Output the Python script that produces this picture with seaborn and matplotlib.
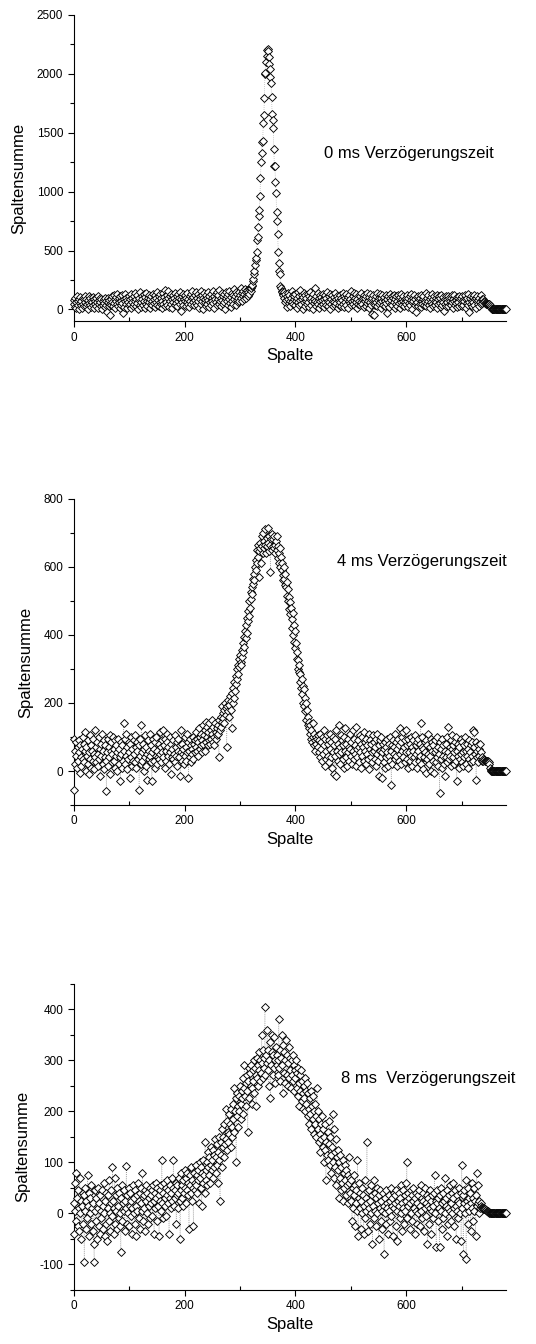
import matplotlib
matplotlib.use("Agg")
import matplotlib.pyplot as plt
from matplotlib.ticker import MultipleLocator
import numpy as np
import pandas as pd
import seaborn as sns

# --- Data: Spaltensumme for every detector column (Spalte 0..780) ---
SUM_0MS = [
    45, 80, 20, 95, 60, 10, 110, 70, 35, 90, 0, 55, 105, 40, 75, 15, 100, 50, 85, 30,
    65, 110, 25, 90, 45, 5, 80, 115, 55, 35, 100, 70, 20, 60, 105, 40, 85, 10, 75, 50,
    95, 30, 65, 110, 15, 80, 45, 100, 60, 25, 90, 5, 70, 40, 85, 55, 20, 95, 35, 75,
    -20, 60, 100, 30, 80, 50, -45, 90, 40, 115, 65, 25, 120, 55, 85, 10, 70, 105, 45, 130,
    30, 95, 60, 15, 110, 75, 40, 125, 55, -30, 90, 20, 70, 135, 45, 100, 10, 80, 60, 115,
    35, 85, 50, 130, 15, 95, 65, 25, 110, 45, 75, 140, 30, 90, 55, 120, 5, 80, 100, 40,
    150, 60, 20, 115, 85, 40, 130, 70, 10, 105, 50, 140, 75, 30, 95, 60, 125, 15, 85, 45,
    110, 70, 35, 135, 55, 90, 20, 120, 65, 100, 40, 145, 80, 25, 110, 60, 130, 45, 95, 15,
    75, 140, 50, 105, 30, 165, 85, 60, 120, 40, 95, 155, 20, 110, 70, 135, 45, 90, 10, 125,
    65, 100, 35, 140, 80, 55, 115, 25, 130, 70, 95, 45, 150, 85, -15, 110, 60, 130, 40, 90,
    75, 120, 30, 100, 65, 140, 50, 85, 20, 115, 70, 135, 45, 95, 160, 60, 105, 35, 125, 80,
    150, 55, 100, 40, 130, 75, 15, 110, 90, 160, 45, 120, 70, 5, 100, 140, 60, 85, 30, 125,
    95, 50, 150, 80, 20, 115, 65, 135, 40, 100, 75, 160, 55, 110, 10, 90, 130, 60, 145, 35,
    85, 120, 50, 165, 70, 100, 25, 140, 80, 110, 45, 130, 60, 5, 95, 150, 70, 115, 40, 135,
    85, 160, 55, 105, 20, 140, 75, 120, 50, 170, 90, 110, 35, 150, 80, 130, 60, 100, 145, 75,
    120, 180, 95, 140, 70, 160, 110, 130, 85, 175, 100, 150, 120, 165, 110, 145, 170, 135, 180, 160,
    185, 200, 210, 240, 260, 300, 330, 380, 420, 440, 490, 590, 615, 700, 790, 840, 960, 1115, 1250, 1330,
    1420, 1430, 1580, 1650, 1790, 1995, 2010, 2100, 2150, 2200, 2210, 2190, 2140, 2080, 2040, 1970, 1920, 1800, 1660, 1610,
    1540, 1360, 1220, 1215, 1080, 990, 830, 750, 640, 490, 390, 330, 300, 200, 180, 160, 150, 130, 120, 145,
    100, 60, 130, 80, 110, 20, 90, 140, 55, 120, 75, 30, 100, 160, 65, 125, 45, 85, 110, 40,
    130, 70, 95, 15, 150, 60, 115, 35, 165, 80, 50, 125, 90, 5, 105, 140, 65, 30, 120, 75,
    95, 45, 135, 60, 110, 20, 85, 150, 40, 100, 70, 130, 5, 90, 55, 180, 75, 30, 115, 60,
    140, 45, 95, 10, 120, 70, 35, 105, 80, 135, 50, 90, 20, 125, 65, 100, 40, 145, 75, 30,
    110, 60, 130, 5, 90, 50, 120, 75, 25, 105, 65, 140, 35, 85, 55, 115, 15, 95, 70, 40,
    125, 60, 100, 30, 80, 140, 50, 110, 20, 95, 65, 130, 40, 85, 105, 10, 75, 120, 55, 90,
    35, 160, 70, 115, 45, 140, 80, 25, 100, 60, 130, 15, 90, 50, 120, 75, 35, 110, 60, 140,
    85, 45, 100, 20, 125, 70, 95, 30, 115, 55, 140, 75, 10, 105, 60, 130, 40, 85, -40, 95,
    120, 50, -45, 90, 35, 110, 65, 140, 25, 80, 100, 45, 130, 60, 15, 95, 70, 120, 40, 85,
    105, 30, 75, 125, 55, 90, -30, 110, 65, 20, 100, 135, 45, 80, 115, 35, 95, 60, 125, 10,
    85, 50, 110, 70, 30, 120, 55, 95, 15, 105, 65, 130, 40, 90, 75, 115, 25, 85, 60, 100,
    45, 125, 70, 20, 95, 55, 110, 35, 80, 130, 60, 5, 100, 75, 120, 40, 90, 55, -25, 105,
    65, 115, 30, 85, 50, 100, 20, 125, 70, 45, 90, 110, 35, 80, 60, 140, 25, 95, 55, 75,
    120, 40, 85, 15, 105, 65, 130, 50, 90, 25, 110, 70, 35, 100, 60, 125, 10, 85, 45, 115,
    55, 95, 20, 120, 70, 40, 105, 60, -10, 90, 50, 115, 30, 85, 65, 110, 25, 95, 45, 75,
    100, 35, 120, 60, 15, 90, 70, 125, 40, 80, 55, 105, 20, 95, 65, 115, 30, 85, 50, 100,
    25, 110, 60, 40, 90, 70, 120, 15, 85, 55, 100, 35, 130, 65, -20, 95, 45, 110, 75, 30,
    105, 60, 125, 40, 85, 10, 95, 70, 115, 50, 80, 30, 100, 65, 120, 45, 90, 55, 75, 85,
    70, 60, 55, 52, 50, 50, 48, 47, 46, 45, 43, 40, 30, 15, 5, 0, 0, 0, 0, 0,
    0, 0, 0, 0, 0, 0, 0, 0, 0, 0, 0, 0, 0, 0, 0, 0, 0, 0, 0, 0,
    0,
]

SUM_4MS = [
    95, -55, 60, 20, 85, 45, 10, 70, 30, 90, 55, -5, 75, 40, 15, 65, 100, 35, 80, 25,
    60, 115, 0, 70, 45, 90, 20, 55, -10, 105, 35, 75, 10, 60, 95, 30, 50, 5, 120, 40,
    70, 25, 85, 50, 15, 100, 35, 65, -15, 80, 45, 110, 20, 60, 90, 5, 40, 75, 30, -60,
    55, 95, 15, 70, 40, 105, -10, 60, 85, 25, 50, 100, 30, 65, 10, 90, 45, 75, 0, 55,
    95, 20, 65, 40, -30, 85, 50, 10, 75, 30, 140, 60, 20, 95, 45, 110, 5, 70, 35, 85,
    55, -20, 80, 40, 100, 15, 65, 30, 90, 50, 105, 25, 70, 10, 60, 85, 35, 75, -55, 45,
    95, 20, 135, 55, 30, 80, 0, 65, 40, 105, 15, 70, 50, -25, 90, 35, 60, 110, 45, 25,
    75, -30, 55, 95, 30, 65, 10, 85, 45, 100, 20, 60, 40, 80, 35, 115, 50, 70, 25, 90,
    55, 120, 40, 75, 10, 95, 60, 30, 85, 110, 45, 70, 20, 100, 55, -10, 80, 40, 65, 35,
    90, 50, 105, 25, 70, 45, 85, 15, 60, 95, 40, 75, -15, 55, 120, 30, 80, 50, 65, 20,
    100, 45, 70, 30, 110, 55, 85, -20, 60, 40, 95, 75, 25, 65, 50, 100, 35, 80, 55, 90,
    70, 115, 60, 95, 45, 85, 125, 65, 100, 75, 110, 55, 90, 135, 80, 105, 60, 120, 145, 85,
    100, 130, 75, 115, 90, 140, 80, 120, 95, 150, 110, 85, 130, 100, 75, 140, 115, 95, 125, 105,
    135, 110, 40, 150, 120, 160, 130, 190, 145, 170, 155, 180, 140, 200, 165, 185, 70, 190, 175, 210,
    195, 160, 220, 180, 205, 125, 230, 200, 245, 215, 260, 235, 280, 255, 300, 270, 310, 285, 330, 305,
    340, 320, 310, 355, 335, 375, 350, 395, 365, 410, 390, 430, 405, 450, 440, 470, 455, 500, 480, 525,
    505, 540, 520, 565, 550, 580, 560, 600, 590, 620, 610, 650, 630, 665, 645, 570, 670, 655, 610, 690,
    660, 640, 700, 675, 655, 710, 665, 640, 685, 660, 715, 670, 645, 690, 665, 585, 680, 650, 695, 660,
    680, 655, 690, 665, 640, 675, 690, 650, 660, 625, 640, 610, 655, 600, 630, 590, 610, 575, 560, 600,
    565, 545, 580, 540, 555, 515, 535, 500, 510, 475, 495, 460, 480, 445, 420, 465, 400, 430, 380, 410,
    360, 375, 330, 350, 300, 325, 290, 310, 260, 285, 245, 270, 225, 250, 200, 240, 190, 215, 175, 200,
    150, 180, 135, 160, 125, 145, 110, 135, 95, 120, 85, 140, 100, 75, 110, 90, 60, 100, 80, 95,
    70, 105, 55, 90, 40, 110, 65, 85, 30, 100, 50, 120, 75, 15, 95, 60, 35, 105, 80, 45,
    90, 25, 110, 65, 40, 85, 10, 100, 55, 75, -10, 95, 45, -15, 120, 60, 30, 80, 135, 50,
    70, 20, 105, 55, 90, 35, 75, 10, 100, 60, 125, 40, 80, 15, 95, 55, 70, 30, 110, 65,
    45, 85, 20, 120, 60, 35, 95, 50, 75, 15, 130, 65, 40, 90, 25, 70, 105, 55, 80, 10,
    100, 45, 70, 30, 115, 60, 85, 20, 95, 50, 75, 35, 110, 5, 65, 90, 40, 80, 55, 25,
    105, 60, 85, 35, 70, 15, 95, 50, 110, 30, 75, -15, 60, 90, 40, 100, 55, -20, 80, 25,
    65, 85, 10, 70, 40, 95, 55, 15, 80, 45, 100, 30, 60, -40, 75, 20, 90, 50, 70, 35,
    110, 45, 85, 15, 65, 95, 30, 75, 125, 50, 85, 20, 100, 60, 40, 115, 70, 25, 90, 55,
    120, 35, 75, 10, 95, 55, 80, 30, 100, 45, 70, 15, 90, 60, 40, 105, 25, 75, 50, 85,
    10, 95, 60, 30, 80, 45, 140, 20, 70, 100, 5, 65, 40, 85, 55, -5, 90, 35, 75, 50,
    110, 20, 70, 45, 95, 0, 60, 85, 30, 75, -5, 55, 90, 25, 65, 40, 100, 15, 70, 50,
    -65, 85, 35, 65, 10, 95, 45, 75, 20, 60, -15, 80, 40, 100, 25, 55, 130, 35, 70, 45,
    90, 15, 65, 105, 40, 75, 20, 55, 85, 30, 100, -30, 60, 45, 80, 10, 70, 35, 95, 50,
    25, 85, 55, 15, 75, 40, 100, 60, 20, 80, 45, 65, 10, 90, 35, 55, 75, 25, 85, 45,
    120, 30, 70, 115, 50, 85, -25, 60, 40, 75, 25, 65, 45, 80, 35, 55, 30, 40, 35, 30,
    32, 31, 30, 30, 30, 29, 28, 28, 27, 26, 20, 10, 3, 0, 0, 0, 0, 0, 0, 0,
    0, 0, 0, 0, 0, 0, 0, 0, 0, 0, 0, 0, 0, 0, 0, 0, 0, 0, 0, 0,
    0,
]

SUM_8MS = [
    20, -40, 60, 5, -15, 80, 30, -25, 45, 10, -35, 70, 0, 25, -50, 15, 40, -20, 35, -95,
    5, 50, -30, 25, -10, 75, 15, -45, 40, 0, 30, -20, 55, 10, -35, 20, -60, -95, 45, 5,
    -15, 30, -50, 10, 50, -25, 20, -40, 35, 5, -10, 45, -30, 15, 0, 60, -45, 25, -20, 40,
    -55, 10, 35, -15, 65, 0, -35, 20, 45, -5, 90, 25, -40, 10, 70, -20, 35, 5, -30, 50,
    15, -10, 40, -25, 0, -75, 30, 55, -15, 20, 5, 45, -35, 25, 10, 92, -20, 35, 0, 50,
    -25, 15, 40, -5, 25, -40, 10, 55, 0, 30, -20, 45, 15, -45, 35, 5, 60, -10, 25, 40,
    -30, 20, 50, 5, 80, -15, 35, 10, 45, -35, 25, 55, 0, 40, -20, 30, 15, 50, -10, 35,
    20, 45, -5, 55, 25, -40, 40, 10, 60, 30, -15, 50, 15, 35, -45, 25, 45, 5, 55, 105,
    20, 40, -10, 60, 30, 15, 50, -5, 35, 65, 20, 45, -40, 30, 55, 10, 40, 70, 25, 50,
    105, 15, 45, 30, 60, -20, 35, 55, 10, 40, 70, 25, -50, 45, 80, 30, 55, 15, 65, 40,
    85, 50, 20, 70, 45, 80, 35, 60, -30, 55, 75, 40, 90, 25, 65, 50, -25, 80, 45, 60,
    95, 55, 75, 40, 85, 65, 20, 100, 70, 50, 90, 15, 80, 60, 105, 75, 40, 140, 85, 65,
    100, 55, 90, 120, 75, 110, 60, 95, 130, 85, 105, 70, 125, 90, 115, 145, 80, 110, 135, 95,
    120, 60, 150, 105, 25, 140, 115, 165, 90, 130, 150, 110, 175, 135, 205, 145, 125, 180, 160, 140,
    195, 155, 175, 130, 205, 170, 150, 215, 185, 245, 160, 200, 225, 100, 190, 235, 210, 170, 230, 200,
    250, 215, 185, 240, 225, 265, 195, 245, 290, 230, 255, 210, 270, 240, 160, 260, 285, 225, 275, 250,
    290, 245, 215, 280, 260, 300, 235, 285, 270, 210, 305, 265, 290, 250, 280, 315, 260, 300, 275, 350,
    295, 320, 265, 305, 285, 405, 270, 310, 295, 360, 280, 320, 250, 300, 335, 225, 290, 315, 350, 270,
    310, 285, 345, 300, 255, 325, 290, 310, 270, 300, 380, 285, 320, 260, 305, 350, 290, 235, 330, 275,
    315, 255, 300, 340, 270, 310, 250, 295, 325, 265, 305, 280, 245, 300, 270, 310, 260, 290, 240, 280,
    265, 300, 245, 275, 230, 285, 255, 210, 270, 240, 280, 220, 260, 235, 205, 250, 225, 265, 200, 240,
    215, 255, 190, 235, 205, 175, 225, 195, 240, 165, 210, 185, 230, 155, 200, 175, 215, 150, 190, 245,
    165, 200, 140, 185, 155, 120, 175, 145, 190, 130, 165, 100, 150, 125, 175, 65, 140, 115, 160, 105,
    135, 180, 95, 150, 115, 80, 130, 195, 100, 165, 70, 120, 90, 145, 55, 110, 85, 125, 30, 100,
    70, 115, 45, 90, 60, 105, 25, 80, 50, 95, 65, 35, 85, 55, 75, 20, 110, 60, 40, 70,
    25, 65, -15, 50, 10, 75, 35, -25, 55, 20, 45, 5, 105, -45, 30, 60, 10, 40, -30, 25,
    50, 0, 35, -40, 15, 65, -10, 30, 5, 140, 20, -35, 45, 10, 25, -20, 55, 0, 35, -60,
    15, 65, -10, 40, 5, 30, -25, 50, 0, 20, -50, 35, 10, 45, -15, 25, 5, -30, 40, 15,
    -80, 30, 0, 45, -20, 20, 10, -40, 35, 5, 25, -15, 50, -5, 30, 15, -45, 40, 10, 20,
    35, -25, 45, 5, -55, 25, 15, 40, -10, 30, 0, 55, 20, -35, 45, 10, -20, 35, 5, 60,
    25, 100, -10, 40, 15, 30, -30, 20, 45, 0, 35, -15, 25, 50, 10, -40, 30, 5, 40, -20,
    20, 35, 0, 45, -25, 15, 55, 5, 30, -10, 25, 40, -35, 10, 50, 20, -5, 35, -60, 15,
    30, -20, 45, 10, 25, -40, 5, 35, 15, -10, 40, 75, 0, 25, -65, 20, 45, -15, 30, 10,
    -65, 35, 5, 50, -30, 20, 40, -10, 25, 70, 0, 30, 15, -45, 45, 10, -20, 35, 55, 5,
    20, -15, 40, 0, 30, 60, 10, -25, 45, 15, -50, 35, 5, 25, -10, 50, 20, 0, 40, -55,
    95, 10, 35, -80, 20, 45, 0, 65, -90, 25, 15, 50, -20, 30, 5, 40, -35, 20, 60, 10,
    -15, 30, 50, 5, 25, -45, 35, 80, 15, 20, 55, 0, 25, 10, 20, 15, 12, 10, 10, 8,
    10, 8, 8, 7, 6, 5, 5, 4, 3, 2, 1, 0, 0, 0, 0, 0, 0, 0, 0, 0,
    0, 0, 0, 0, 0, 0, 0, 0, 0, 0, 0, 0, 0, 0, 0, 0, 0, 0, 0, 0,
    0,
]

DELAY_TEXTS = ["0 ms Verzögerungszeit", "4 ms Verzögerungszeit", "8 ms  Verzögerungszeit"]

# --- Layout / styling ---
FIG_W, FIG_H, DPI = 5.36, 13.44, 100
AX_LEFT, AX_WIDTH = 0.1375, 0.8066
AX_BOTTOMS = [0.761, 0.401, 0.0402]
AX_HEIGHT = 0.228
Y_LIMITS = [(-100, 2500), (-100, 800), (-150, 450)]
Y_STEPS = [500, 200, 100]
TEXT_XY = [(452, 1322), (475, 616), (482, 265)]
YLABEL_X = [-0.110, -0.094, -0.101]


def draw_panel(ax, values, ylim, ystep, text, text_xy, ylabel_x):
    df = pd.DataFrame({"Spalte": np.arange(len(values)), "Spaltensumme": values})

    # faint dotted connecting line under the markers
    sns.lineplot(data=df, x="Spalte", y="Spaltensumme", estimator=None, sort=False,
                 color="0.6", linestyle=(0, (1, 2)), linewidth=0.5, ax=ax)
    sns.scatterplot(data=df, x="Spalte", y="Spaltensumme", marker="D", s=16,
                    color="white", edgecolor="black", linewidth=0.65,
                    zorder=3, clip_on=False, legend=False, ax=ax)

    ax.set_xlim(0, 780)
    ax.set_ylim(*ylim)
    ax.xaxis.set_major_locator(MultipleLocator(200))
    ax.xaxis.set_minor_locator(MultipleLocator(100))
    ax.yaxis.set_major_locator(MultipleLocator(ystep))
    ax.yaxis.set_minor_locator(MultipleLocator(ystep / 2))

    ax.tick_params(axis="x", which="major", direction="out", length=4, width=0.8,
                   labelsize=8.5, pad=3.5)
    ax.tick_params(axis="x", which="minor", direction="in", length=3, width=0.8)
    ax.tick_params(axis="y", which="major", direction="out", length=4, width=0.8,
                   labelsize=8.5, pad=3.5)
    ax.tick_params(axis="y", which="minor", direction="out", length=3, width=0.8)

    sns.despine(ax=ax)
    for side in ("left", "bottom"):
        ax.spines[side].set_linewidth(0.8)

    ax.set_xlabel("Spalte", fontsize=12, labelpad=3)
    ax.set_ylabel("Spaltensumme", fontsize=12)
    ax.yaxis.set_label_coords(ylabel_x, 0.467)

    ax.text(text_xy[0], text_xy[1], text, fontsize=12, ha="left", va="center")


def make_figure():
    sns.set_style("ticks", {"axes.edgecolor": "black", "xtick.color": "black",
                            "ytick.color": "black", "text.color": "black",
                            "axes.labelcolor": "black"})
    plt.rcParams["font.family"] = ["Liberation Sans", "DejaVu Sans"]
    plt.rcParams["axes.unicode_minus"] = False

    fig = plt.figure(figsize=(FIG_W, FIG_H), dpi=DPI)
    series = [SUM_0MS, SUM_4MS, SUM_8MS]
    for i, values in enumerate(series):
        ax = fig.add_axes([AX_LEFT, AX_BOTTOMS[i], AX_WIDTH, AX_HEIGHT])
        draw_panel(ax, values, Y_LIMITS[i], Y_STEPS[i], DELAY_TEXTS[i],
                   TEXT_XY[i], YLABEL_X[i])

    fig.savefig("out.png", dpi=DPI)
    print("saved out.png")


if __name__ == "__main__":
    make_figure()
